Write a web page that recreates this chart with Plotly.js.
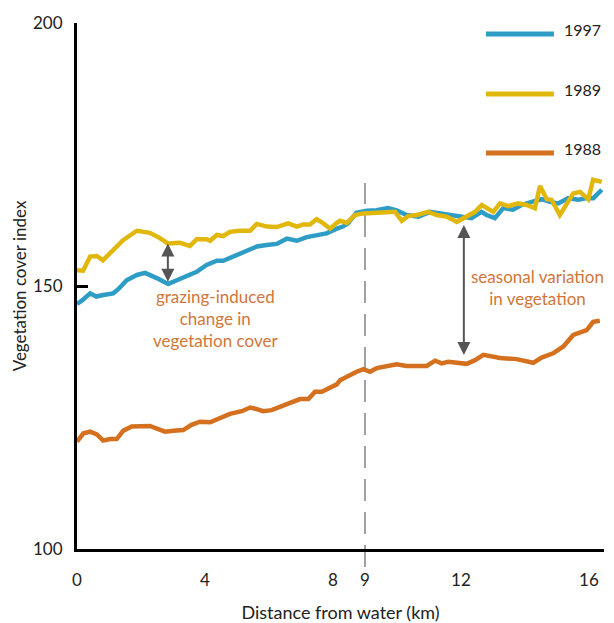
<!DOCTYPE html>
<html>
<head>
<meta charset="utf-8">
<script src="https://cdn.plot.ly/plotly-3.0.1.min.js"></script>
<style>html,body{margin:0;padding:0;background:#fff;}#chart{width:614px;height:623px;}</style>
</head>
<body>
<div id="chart"></div>
<script>
// Series names
const seriesNames = ["1997", "1989", "1988"];
const seriesColors = ["#2E9DC6", "#E2B70C", "#D4701E"];

// 1997 (blue)
const x1997 = [0.00,0.15,0.41,0.60,0.82,1.13,1.29,1.55,1.87,2.13,2.49,2.85,3.12,3.43,3.74,4.05,4.37,4.57,4.78,5.09,5.41,5.62,5.93,6.24,6.56,6.87,7.18,7.49,7.80,8.12,8.31,8.47,8.73,9.05,9.36,9.72,9.99,10.30,10.67,11.03,11.45,11.81,12.07,12.33,12.64,12.80,13.06,13.32,13.63,13.89,14.21,14.52,14.78,15.04,15.35,15.67,15.93,16.14,16.40];
const y1997 = [146.6,147.2,148.6,148.0,148.3,148.6,149.4,151.1,152.1,152.5,151.5,150.4,151.1,151.8,152.7,154.0,154.8,154.8,155.3,156.1,157.0,157.5,157.8,158.0,159.0,158.6,159.3,159.7,160.0,160.9,161.3,161.9,163.9,164.3,164.4,164.8,164.4,163.5,163.2,164.1,163.7,163.3,163.2,162.9,164.1,163.5,162.9,164.8,164.5,165.4,166.0,166.5,166.0,165.7,166.7,166.4,166.7,166.7,168.3];

// 1989 (yellow)
const x1989 = [0.00,0.19,0.41,0.62,0.81,1.13,1.44,1.87,2.28,2.59,2.84,3.22,3.53,3.74,4.05,4.16,4.37,4.57,4.78,5.09,5.41,5.62,5.93,6.24,6.60,6.87,7.07,7.28,7.49,7.70,7.91,8.12,8.22,8.43,8.69,8.95,9.26,9.57,9.94,10.15,10.35,10.62,10.98,11.24,11.55,11.87,12.18,12.44,12.65,13.01,13.22,13.48,13.79,14.05,14.31,14.47,14.68,14.83,15.09,15.30,15.51,15.72,15.98,16.13,16.40];
const y1989 = [153.0,152.9,155.6,155.7,154.9,156.8,158.7,160.5,160.1,159.1,158.1,158.2,157.6,158.9,158.9,158.6,159.7,159.5,160.3,160.5,160.5,161.8,161.3,161.2,161.9,161.3,161.7,161.7,162.7,161.9,160.9,162.0,162.4,162.0,163.5,163.8,163.9,163.8,164.1,162.4,163.3,163.5,164.1,163.5,163.2,162.2,163.3,164.1,165.4,164.1,165.7,165.2,165.7,165.4,164.8,169.0,166.5,166.4,163.5,165.7,167.6,167.9,166.5,170.2,169.8];

// 1988 (orange)
const x1988 = [0.00,0.20,0.41,0.62,0.82,1.03,1.24,1.45,1.71,1.97,2.28,2.54,2.75,3.01,3.32,3.58,3.84,4.16,4.42,4.78,5.15,5.41,5.62,5.82,6.08,6.40,6.71,6.97,7.23,7.44,7.65,7.91,8.12,8.22,8.53,8.74,8.95,9.16,9.37,9.68,9.99,10.30,10.62,10.93,11.19,11.40,11.60,11.92,12.18,12.44,12.70,13.22,13.74,14.26,14.52,14.88,15.20,15.51,15.93,16.13,16.34];
const y1988 = [120.4,122.0,122.3,121.8,120.6,120.9,120.9,122.5,123.3,123.4,123.4,122.8,122.3,122.5,122.6,123.6,124.2,124.1,124.7,125.7,126.2,126.9,126.6,126.2,126.4,127.2,128.0,128.5,128.5,129.9,129.9,130.6,131.3,132.1,133.1,133.7,134.2,133.7,134.4,134.7,135.1,134.8,134.8,134.8,135.8,135.3,135.6,135.3,135.2,135.9,136.9,136.3,136.1,135.4,136.4,137.2,138.5,140.7,141.6,143.2,143.4];

const xTicks = [0, 4, 8, 9, 12, 16];
const yTicks = [100, 150, 200];

// Annotation values (arrows between series)
const grazingArrow = {x: 2.84, yTop: 158.1, yBottom: 150.5};
const seasonalArrow = {x: 12.09, yTop: 161.6, yBottom: 136.6};
const dashedX = 9;

const font = "Lato, 'Open Sans', sans-serif";
const noteColor = "#D0763A";
const arrowColor = "#555555";

const xs = [x1997, x1989, x1988];
const ys = [y1997, y1989, y1988];
const traces = seriesNames.map((n, i) => ({
  type: "scatter", mode: "lines", name: n,
  x: xs[i], y: ys[i],
  line: {color: seriesColors[i], width: 4.5},
  hoverinfo: "skip"
}));

// manual legend
const legY = [0.979, 0.865, 0.753];
const shapes = [
  {type: "line", xref: "x", yref: "paper", x0: dashedX, x1: dashedX, y0: -0.034, y1: 0.696,
   line: {color: "#A0A0A0", width: 2, dash: "22px,11px"}, layer: "below"}
];
const annotations = [];
seriesNames.forEach((n, i) => {
  shapes.push({type: "line", xref: "paper", yref: "paper", x0: 0.776, x1: 0.905, y0: legY[i], y1: legY[i],
    line: {color: seriesColors[i], width: 5}});
  annotations.push({xref: "paper", yref: "paper", x: 0.92, y: legY[i] + 0.009, text: n, showarrow: false,
    xanchor: "left", yanchor: "middle", font: {family: font, size: 16, color: "#222"}});
});

annotations.push(
  {x: grazingArrow.x, y: grazingArrow.yTop, ax: grazingArrow.x, ay: grazingArrow.yBottom,
   axref: "x", ayref: "y", xref: "x", yref: "y", text: "", showarrow: true,
   arrowhead: 2, startarrowhead: 2, arrowside: "end+start", arrowsize: 1.3, startarrowsize: 1.3, arrowwidth: 2, arrowcolor: arrowColor},
  {x: seasonalArrow.x, y: seasonalArrow.yTop, ax: seasonalArrow.x, ay: seasonalArrow.yBottom,
   axref: "x", ayref: "y", xref: "x", yref: "y", text: "", showarrow: true,
   arrowhead: 2, startarrowhead: 2, arrowside: "end+start", arrowsize: 1.3, startarrowsize: 1.3, arrowwidth: 2, arrowcolor: arrowColor},
  {x: 4.33, y: 143.8, xref: "x", yref: "y", text: "grazing-induced<br>change in<br>vegetation cover", showarrow: false,
   align: "center", font: {family: font, size: 17, color: noteColor}},
  {x: 14.4, y: 149.7, xref: "x", yref: "y", text: "seasonal variation<br>in vegetation", showarrow: false,
   align: "center", font: {family: font, size: 17, color: noteColor}}
);

const layout = {
  width: 614, height: 623,
  margin: {l: 77, r: 10, t: 23, b: 74},
  paper_bgcolor: "#fff", plot_bgcolor: "#fff",
  showlegend: false,
  font: {family: font, size: 16, color: "#222"},
  xaxis: {
    range: [0, 16.47], tickvals: xTicks, ticktext: xTicks.map(String),
    showgrid: false, zeroline: false, showline: true, linecolor: "#000", linewidth: 3,
    ticks: "", ticklabelstandoff: 14, tickfont: {family: font, size: 17, color: "#222"},
    title: {text: "Distance from water (km)", font: {family: font, size: 18, color: "#222"}, standoff: 22}
  },
  yaxis: {
    range: [100, 200], tickvals: yTicks, ticktext: yTicks.map(String),
    showgrid: false, zeroline: false, showline: true, linecolor: "#000", linewidth: 3,
    ticks: "inside", ticklen: 11, tickwidth: 3, tickcolor: "#000",
    ticklabelstandoff: 8, tickfont: {family: font, size: 17, color: "#222"},
    title: {text: "Vegetation cover index", font: {family: font, size: 17, color: "#222"}, standoff: 3}
  },
  shapes: shapes,
  annotations: annotations
};

Plotly.newPlot("chart", traces, layout, {displayModeBar: false, staticPlot: true});
</script>
</body>
</html>
